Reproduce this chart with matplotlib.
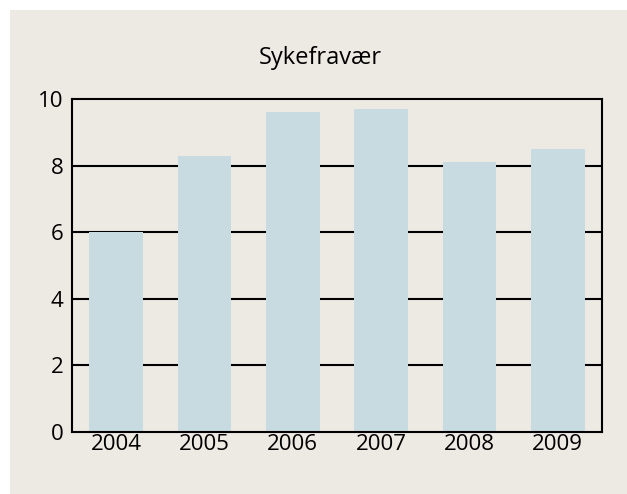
import numpy as np
import matplotlib
matplotlib.use("Agg")
import matplotlib.pyplot as plt
from matplotlib.patches import Rectangle

# Data
years = ["2004", "2005", "2006", "2007", "2008", "2009"]
sick_leave = [6.0, 8.3, 9.6, 9.7, 8.1, 8.5]
y_ticks = [0, 2, 4, 6, 8, 10]

bg = "#ede9e3"
bar_col = "#c8dbe1"

plt.rcParams['font.family'] = ['Open Sans', 'DejaVu Sans']

# Beige figure, white strips along top and left edges
fig = plt.figure(figsize=(6.27, 4.94), dpi=100, facecolor=bg)
fig.patches.append(Rectangle((0, 0), 10 / 627, 1, transform=fig.transFigure,
                             facecolor="white", edgecolor="none", zorder=-10))
fig.patches.append(Rectangle((0, 1 - 10 / 494), 1, 10 / 494, transform=fig.transFigure,
                             facecolor="white", edgecolor="none", zorder=-10))

ax = fig.add_axes([72 / 627, 1 - 432 / 494, (602 - 72) / 627, (432 - 99) / 494])
ax.set_zorder(2)
ax.set_facecolor(bg)

x = np.arange(len(years))
ax.bar(x, sick_leave, width=0.61, color=bar_col, zorder=3)

# Horizontal grid lines behind bars
for t in y_ticks[1:-1]:
    ax.axhline(t, color="black", linewidth=1.5, zorder=1)

ax.set_xlim(-0.5, len(years) - 0.5)
ax.set_ylim(0, 10)
ax.set_xticks(x)
ax.set_xticklabels(years)
ax.set_yticks(y_ticks)
ax.tick_params(axis="both", length=0, labelsize=16, colors="black")
ax.tick_params(axis="y", pad=6)
ax.tick_params(axis="x", pad=1.5)

for s in ax.spines.values():
    s.set_linewidth(1.5)
    s.set_color("black")
    s.set_zorder(5)

fig.text(320 / 627, 1 - 58 / 494, "Sykefravær", ha="center", va="center",
         fontsize=17, color="black")

fig.savefig("out.png", dpi=100, facecolor=fig.get_facecolor())
